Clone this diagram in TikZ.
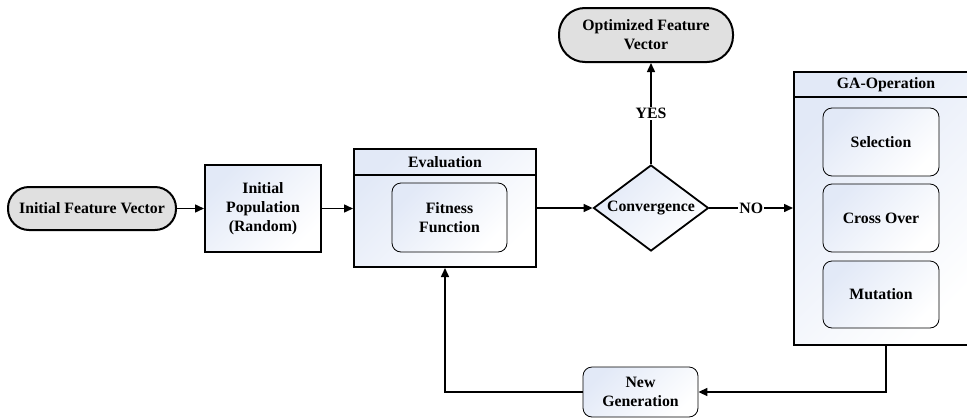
\documentclass[tikz,border=0pt]{standalone}
\usepackage{fontspec}
\setmainfont{Liberation Serif}
\usetikzlibrary{shapes.geometric,arrows.meta}
\definecolor{gradA}{RGB}{226,233,247}
\definecolor{termgray}{RGB}{224,224,224}
\tikzset{
  every node/.style={font=\fontsize{15.8}{19}\selectfont\bfseries, align=center, inner sep=0pt},
  shadefill/.style={top color=gradA, bottom color=white, shading angle=45},
  term/.style={draw, line width=2pt, fill=termgray, rounded corners=21pt},
  procbox/.style={draw, line width=2pt, shadefill},
  innerbox/.style={draw, line width=0.8pt, rounded corners=9pt, shadefill},
  decide/.style={diamond, draw, line width=1.8pt, shadefill, aspect=1.34},
  conn/.style={line width=1.5pt, -{Triangle[length=9pt,width=8pt]}},
  lbl/.style={fill=white, inner sep=1pt}
}
\begin{document}
\begin{tikzpicture}[x=1pt,y=-1pt]
\useasboundingbox (0,0) rectangle (967,418);
\clip (0,0) rectangle (967,418);

% nodes
\node[term, minimum width=168pt, minimum height=43pt] (ifv) at (92,208.5) {Initial Feature Vector};
\node[procbox, minimum width=116pt, minimum height=87pt] (ipop) at (263,208.5) {Initial\\Population\\(Random)};

\node[procbox, minimum width=182pt, minimum height=118pt] (eval) at (445,208) {};
\node (evalh) at (445,162) {Evaluation};
\node[innerbox, minimum width=115pt, minimum height=69pt] (fit) at (449.5,217.5) {Fitness\\Function};

\node[decide, minimum width=115pt, minimum height=86pt] (conv) at (651,208) {Convergence};

\node[term, minimum width=174pt, minimum height=54pt, rounded corners=26pt] (opt) at (646,35) {Optimized Feature\\Vector};

\node[procbox, minimum width=184pt, minimum height=273pt] (ga) at (886,208.5) {};
\node (gah) at (886,84.5) {GA-Operation};
\node[innerbox, minimum width=116pt, minimum height=68pt] (sel) at (881,142) {Selection};
\node[innerbox, minimum width=116pt, minimum height=68pt] (cross) at (881,218) {Cross Over};
\node[innerbox, minimum width=116pt, minimum height=67pt] (mut) at (881,294.5) {Mutation};

\node[innerbox, minimum width=115pt, minimum height=50pt] (newgen) at (640.5,392) {New\\Generation};

\coordinate (gaout) at (886,392);
\coordinate (evalin) at (445,392);

% header lines
\draw[line width=1.5pt] (eval.west |- 0,175) -- (eval.east |- 0,175);
\draw[line width=1.5pt] (ga.west |- 0,97) -- (ga.east |- 0,97);

% connectors
\draw[conn] (ifv.east) -- (ipop.west);
\draw[conn] (ipop.east) -- (ipop.east -| eval.west);
\draw[conn] (eval.east |- conv.west) -- (conv.west);
\draw[conn] (conv.north) -- node[lbl, pos=0.5] {YES} (conv.north |- opt.south);
\draw[conn] (conv.east) -- node[lbl, pos=0.5] {NO} (conv.east -| ga.west);
\draw[conn] (ga.south -| gaout) -- (gaout) -- (newgen.east);
\draw[conn] (newgen.west) -- (evalin) -- (eval.south);
\end{tikzpicture}
\end{document}
